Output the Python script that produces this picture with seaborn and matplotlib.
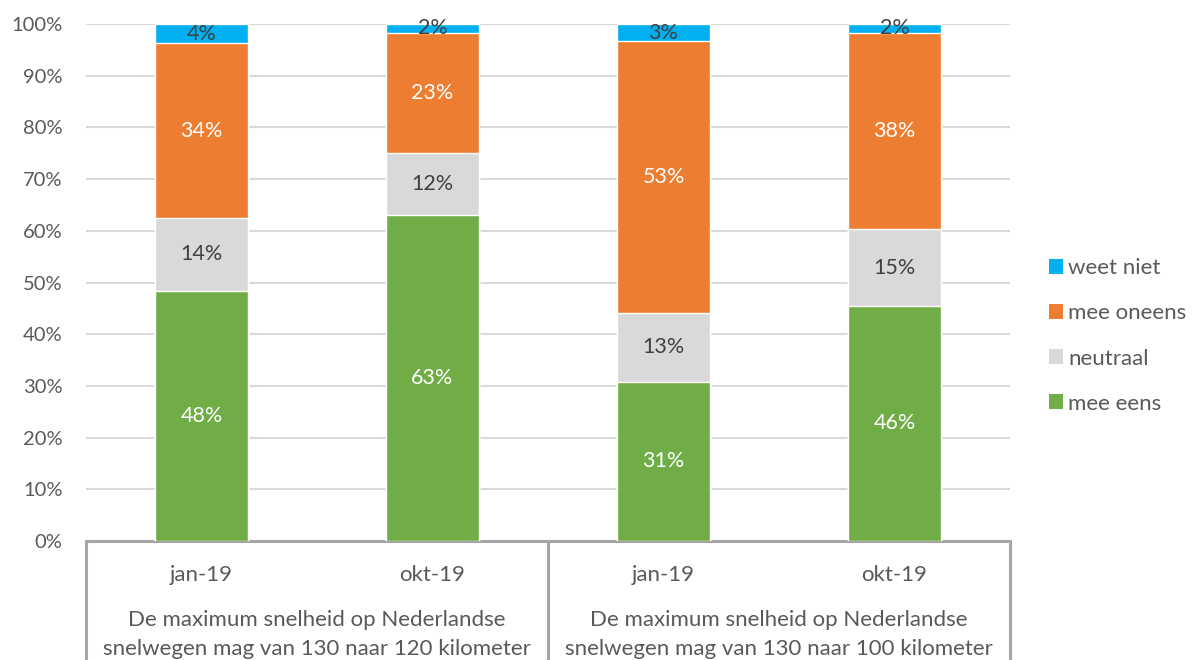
import matplotlib
matplotlib.use("Agg")
import matplotlib.pyplot as plt
import matplotlib.transforms as mtransforms
from matplotlib.patches import Patch
import numpy as np
import pandas as pd
import seaborn as sns

# waarden per staaf (in %)
periodes = ["jan-19", "okt-19", "jan-19", "okt-19"]
stellingen = [
    "De maximum snelheid op Nederlandse\nsnelwegen mag van 130 naar 120 kilometer",
    "De maximum snelheid op Nederlandse\nsnelwegen mag van 130 naar 100 kilometer",
]
mee_eens = [48.4, 63.1, 30.8, 45.5]
neutraal = [14.1, 11.9, 13.3, 14.8]
mee_oneens = [33.8, 23.3, 52.6, 38.0]
weet_niet = [3.7, 1.7, 3.3, 1.7]

series = ["mee eens", "neutraal", "mee oneens", "weet niet"]
colors = {"mee eens": "#70AD47", "neutraal": "#D9D9D9",
          "mee oneens": "#ED7D31", "weet niet": "#00B0F0"}
label_colors = {"mee eens": "white", "neutraal": "#404040",
                "mee oneens": "white", "weet niet": "#404040"}
TEXT = "#595959"
AXIS = "#A6A6A6"

sns.set_theme(style="white")
plt.rcParams["font.family"] = ["Lato", "DejaVu Sans"]

df = pd.DataFrame({"pos": np.arange(4), "mee eens": mee_eens, "neutraal": neutraal,
                   "mee oneens": mee_oneens, "weet niet": weet_niet})
cum = df[series].cumsum(axis=1)

fig = plt.figure(figsize=(11.92, 6.6), dpi=100)
ax = fig.add_axes([86 / 1192, 1 - 541 / 660, 924 / 1192, 517 / 660])

# gestapelde staven: van de hoogste cumulatieve waarde naar de laagste
for s in reversed(series):
    sns.barplot(x=df["pos"], y=cum[s], color=colors[s], width=0.4,
                native_scale=True, ax=ax, saturation=1, zorder=3)

for i in range(4):
    for s in series:
        val = df.loc[i, s]
        mid = cum.loc[i, s] - val / 2
        ax.text(i, mid, f"{val:.0f}%", ha="center", va="center",
                color=label_colors[s], fontsize=15.5, zorder=5)

ax.set_xlim(-0.5, 3.5)
ax.set_ylim(0, 100)
ax.set_yticks(range(0, 101, 10))
ax.set_yticklabels([f"{v}%" for v in range(0, 101, 10)])
ax.yaxis.grid(True, color="#D9D9D9", linewidth=1.5, zorder=0)
ax.tick_params(axis="y", length=0, pad=17, labelsize=14.5, labelcolor=TEXT)
ax.set_xticks(range(4))
ax.set_xticklabels(periodes)
ax.tick_params(axis="x", length=0, pad=17, labelsize=16, labelcolor=TEXT)
ax.set_xlabel("")
ax.set_ylabel("")
for side in ["top", "right", "left"]:
    ax.spines[side].set_visible(False)
ax.spines["bottom"].set_color(AXIS)
ax.spines["bottom"].set_linewidth(2.2)

trans = mtransforms.blended_transform_factory(ax.transData, ax.transAxes)
for xv in [-0.5, 1.5, 3.5]:
    ax.plot([xv, xv], [0, -0.25], transform=trans, color=AXIS,
            linewidth=2.2, clip_on=False)
for gi, tekst in enumerate(stellingen):
    ax.text(gi * 2 + 0.5, -0.133, tekst, transform=trans, ha="center", va="top",
            fontsize=16, color=TEXT, linespacing=1.58)

handles = [Patch(facecolor=colors[s], edgecolor="none") for s in reversed(series)]
fig.legend(handles, list(reversed(series)), loc="center left",
           bbox_to_anchor=(1029 / 1192, 1 - 336 / 660), frameon=False,
           fontsize=16, labelcolor=TEXT, handlelength=0.65, handleheight=0.65,
           handletextpad=0.2, labelspacing=1.13)

fig.savefig("out.png", dpi=100)
